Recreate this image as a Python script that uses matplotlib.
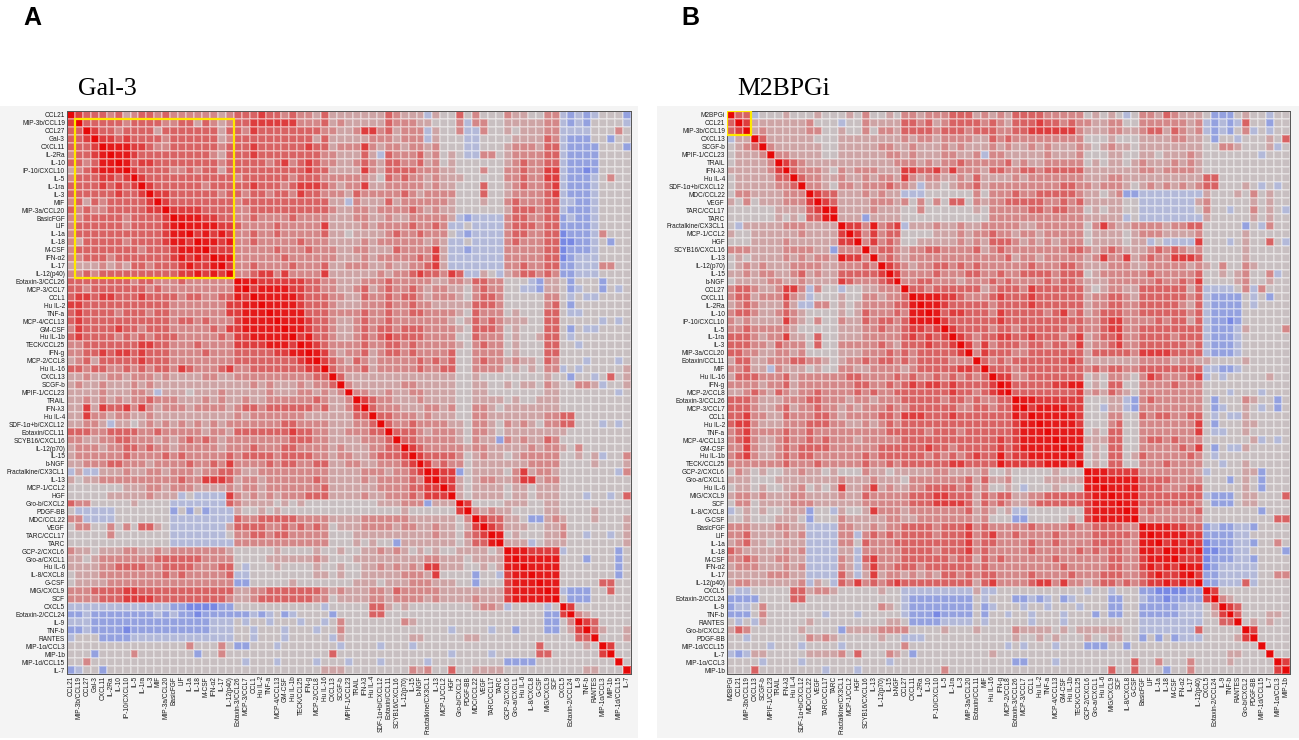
import numpy as np
import matplotlib
matplotlib.use("Agg")
import matplotlib.pyplot as plt
from matplotlib.colors import LinearSegmentedColormap
from matplotlib.patches import Rectangle

# ---------------- data ----------------
labels_a = ["CCL21", "MIP-3b/CCL19", "CCL27", "Gal-3", "CXCL11", "IL-2Ra", "IL-10",
            "IP-10/CXCL10", "IL-5", "IL-1ra", "IL-3", "MIF", "MIP-3a/CCL20", "BasicFGF",
            "LIF", "IL-1a", "IL-18", "M-CSF", "IFN-α2", "IL-17", "IL-12(p40)",
            "Eotaxin-3/CCL26", "MCP-3/CCL7", "CCL1", "Hu IL-2", "TNF-a", "MCP-4/CCL13",
            "GM-CSF", "Hu IL-1b", "TECK/CCL25", "IFN-g", "MCP-2/CCL8", "Hu IL-16",
            "CXCL13", "SCGF-b", "MPIF-1/CCL23", "TRAIL", "IFN-λ3", "Hu IL-4",
            "SDF-1α+b/CXCL12", "Eotaxin/CCL11", "SCYB16/CXCL16", "IL-12(p70)", "IL-15",
            "b-NGF", "Fractalkine/CX3CL1", "IL-13", "MCP-1/CCL2", "HGF", "Gro-b/CXCL2",
            "PDGF-BB", "MDC/CCL22", "VEGF", "TARC/CCL17", "TARC", "GCP-2/CXCL6",
            "Gro-a/CXCL1", "Hu IL-6", "IL-8/CXCL8", "G-CSF", "MIG/CXCL9", "SCF", "CXCL5",
            "Eotaxin-2/CCL24", "IL-9", "TNF-b", "RANTES", "MIP-1α/CCL3", "MIP-1b",
            "MIP-1d/CCL15", "IL-7"]

# lower triangle of the correlation matrix in panel-A order, one level digit per cell
# (groups of columns separated by spaces only for readability)
rows_a = [
    "",
    "8",
    "77",
    "778",
    "7778",
    "67789",
    "776799",
    "5678999",
    "67778878",
    "777787878",
    "7777778778",
    "67576777778",
    "767667777788",
    "6677777677778",
    "67777776777789",
    "677777777777899",
    "6577777677778998",
    "67777777767778999",
    "667776777777789898",
    "5555656577677789889",
    "66767777777777889898",
    "777777776776667666666",
    "776777777767666666666 9",
    "788788777877776776677 98",
    "887777777777766666668 899",
    "787777677767766666668 8999",
    "787777777777767767666 89999",
    "687777877677766666768 899999",
    "787777676767776666676 8899999",
    "667777777887766676666 88889998",
    "667787887877766667666 777778899",
    "567577777877766666666 7777777789",
    "776776676767768766678 66777777788",
    "556556656665655556655 666666666677",
    "565565556565555555555 556565556566 7",
    "555565556653555455565 555565556656 56",
    "556565656676665556565 565566666676 556",
    "558587786865666566665 677677777767 5568",
    "558665665565555555555 656666666555 55577",
    "556653554565656565656 666666776666 555667",
    "777667777667666665665 777777787766 5566677",
    "665566776665656767656 666666677766 55556667",
    "566656677676656666656 667666776666 565556677",
    "566666676666767666667 677776777766 5665567778",
    "556667766656666766768 666676776677 55665566678",
    "353355565566566656677 655666666666 555566656678",
    "545566666666667668887 566566666676 5555656666769",
    "444444455566566655556 566566666667 55555566667788",
    "444445555565553433338 656565666777 55556556667688 8",
    "766444445444433333337 655554545444 44444455566625 55",
    "433333444444424242333 544545444444 44444444454444 448",
    "663333444444433333333 766777776666 55556666665555 5546",
    "466446464775433333335 777766767676 45556666566556 55458",
    "444446444444433333334 667767766666 44455555555556 554678",
    "444444444444433333333 666666666666 44454544255555 5545779",
    "655455566556566666665 444445444454 45445565654545 44555545",
    "554566666667777776666 444455555565 44455555555566 55545555 9",
    "555566777766777766677 434445444454 45445565656588 55544545 99",
    "455566666666767666667 334444444455 45445555566658 44442443 899",
    "455556666666666666666 224444454444 44455545556665 55442444 8999",
    "666777788777777777777 556677777776 56555665766666 55555555 89999",
    "666677788887777777776 556777777766 45555665666656 55556555 899999",
    "333333333333322111122 444444444443 44444775454444 44445665 3444434",
    "223222222223232212222 223234234444 24444774444444 44444444 4444422 8",
    "333222222222222222333 434434443443 46444444465444 44444444 4444422 46",
    "223222212222222222333 443444344434 46444444444444 43444434 4244422 458",
    "344422223333333333333 443444344444 35444444445544 44455444 4444444 4477",
    "444444444444444644464 224443444444 43444434443444 44444444 4444744 44454",
    "444244446444444424464 444444444444 74444444444444 43444434 4444774 444448",
    "446444444444444444444 434443444434 44344434444434 44444444 2222444 4444444",
    "234424444444444444444 444444444445 55444444446564 47445555 4444444 44455444",
]

labels_b = ["M2BPGi", "CCL21", "MIP-3b/CCL19", "CXCL13", "SCGF-b", "MPIF-1/CCL23", "TRAIL",
            "IFN-λ3", "Hu IL-4", "SDF-1α+b/CXCL12", "MDC/CCL22", "VEGF", "TARC/CCL17",
            "TARC", "Fractalkine/CX3CL1", "MCP-1/CCL2", "HGF", "SCYB16/CXCL16", "IL-13",
            "IL-12(p70)", "IL-15", "b-NGF", "CCL27", "CXCL11", "IL-2Ra", "IL-10",
            "IP-10/CXCL10", "IL-5", "IL-1ra", "IL-3", "MIP-3a/CCL20", "Eotaxin/CCL11",
            "MIF", "Hu IL-16", "IFN-g", "MCP-2/CCL8", "Eotaxin-3/CCL26", "MCP-3/CCL7",
            "CCL1", "Hu IL-2", "TNF-a", "MCP-4/CCL13", "GM-CSF", "Hu IL-1b", "TECK/CCL25",
            "GCP-2/CXCL6", "Gro-a/CXCL1", "Hu IL-6", "MIG/CXCL9", "SCF", "IL-8/CXCL8",
            "G-CSF", "BasicFGF", "LIF", "IL-1a", "IL-18", "M-CSF", "IFN-α2", "IL-17",
            "IL-12(p40)", "CXCL5", "Eotaxin-2/CCL24", "IL-9", "TNF-b", "RANTES",
            "Gro-b/CXCL2", "PDGF-BB", "MIP-1d/CCL15", "IL-7", "MIP-1α/CCL3", "MIP-1b"]

# M2BPGi correlations with labels_b[1:], one level digit per cell
m2bpgi_b = "77 3444544 454445464454 66566677756565 777766666 4545434 66576555 42224544344"

# level digit -> correlation value
level_value = {"0": -0.6, "1": -0.45, "2": -0.3, "3": -0.12, "4": 0.0,
               "5": 0.15, "6": 0.3, "7": 0.45, "8": 0.65, "9": 0.85}

box_a = ("MIP-3b/CCL19", "IL-12(p40)")
box_b = ("M2BPGi", "MIP-3b/CCL19")

# ---------------- build matrices ----------------
def build_a():
    n = len(labels_a)
    M = np.eye(n)
    bad = []
    for i, s in enumerate(rows_a):
        s = s.replace(" ", "")
        if len(s) != i:
            bad.append((i + 1, len(s)))
            continue
        for j, ch in enumerate(s):
            M[i, j] = M[j, i] = level_value[ch]
    if bad:
        raise ValueError("row length mismatch: %s" % bad)
    return M

MA = build_a()
idx = {lab: i for i, lab in enumerate(labels_a)}
m2 = m2bpgi_b.replace(" ", "")
if len(m2) != len(labels_b) - 1:
    raise ValueError("m2 len %d" % len(m2))
nb = len(labels_b)
MB = np.eye(nb)
for i in range(nb):
    for j in range(nb):
        if i == j:
            continue
        a, b = labels_b[i], labels_b[j]
        if a == "M2BPGi":
            MB[i, j] = level_value[m2[j - 1]]
        elif b == "M2BPGi":
            MB[i, j] = level_value[m2[i - 1]]
        else:
            MB[i, j] = MA[idx[a], idx[b]]

# ---------------- colours ----------------
nodes = [(-1.0, "#3c50e0"), (-0.5, "#6f80e4"), (-0.3, "#94a1df"), (-0.12, "#b3b9d9"),
         (0.0, "#c8c0c2"), (0.15, "#cea5a6"), (0.3, "#d48788"), (0.45, "#d86263"),
         (0.65, "#dd3e3f"), (0.85, "#e41a1a"), (1.0, "#e60808")]
cmap = LinearSegmentedColormap.from_list("corr", [((v + 1) / 2, c) for v, c in nodes])

W, H = 1299, 740
fig = plt.figure(figsize=(W / 100, H / 100), dpi=100)
fig.patch.set_facecolor("white")

def fr(x0, y0, x1, y1):
    return [x0 / W, 1 - y1 / H, (x1 - x0) / W, (y1 - y0) / H]

# panel backgrounds
for x0, x1 in [(0, 638), (657, 1299)]:
    fig.patches.append(Rectangle((x0 / W, 1 - 738 / H), (x1 - x0) / W, (738 - 106) / H,
                                 transform=fig.transFigure, facecolor="#f4f4f4",
                                 edgecolor="none", zorder=-10))

tick_font = dict(family=["Liberation Sans", "DejaVu Sans"], size=4.7, color="#1a1a1a")

def draw(rect, M, labels, box):
    ax = fig.add_axes(rect, zorder=5)
    ax.set_facecolor("white")
    n = len(labels)
    ax.pcolormesh(np.arange(n + 1), np.arange(n + 1), M, cmap=cmap, vmin=-1, vmax=1,
                  edgecolors=(1, 1, 1, 0.3), linewidth=0.1)
    ax.set_xlim(0, n)
    ax.set_ylim(n, 0)
    ax.set_xticks(np.arange(n) + 0.5)
    ax.set_yticks(np.arange(n) + 0.5)
    ax.set_xticklabels(labels, rotation=90, fontdict=tick_font)
    ax.set_yticklabels(labels, fontdict=tick_font)
    ax.tick_params(length=0, pad=1.5)
    for sp in ax.spines.values():
        sp.set_color("#555555")
        sp.set_linewidth(0.7)
    i0, i1 = labels.index(box[0]), labels.index(box[1])
    ax.add_patch(Rectangle((i0, i0), i1 - i0 + 1, i1 - i0 + 1, fill=False,
                           edgecolor="#ffe800", linewidth=1.6, zorder=5))
    return ax

draw(fr(67, 111, 631, 674), MA, labels_a, box_a)
draw(fr(727, 111, 1290, 674), MB, labels_b, box_b)

lab_font = dict(family=["Liberation Sans", "DejaVu Sans"], size=18, weight="bold")
fig.text(23 / W, 1 - 25 / H, "A", va="baseline", ha="left", **lab_font)
fig.text(681 / W, 1 - 25 / H, "B", va="baseline", ha="left", **lab_font)
tit_font = dict(family=["Liberation Serif", "DejaVu Serif"], size=18.5)
fig.text(78 / W, 1 - 95 / H, "Gal-3", va="baseline", ha="left", **tit_font)
fig.text(737 / W, 1 - 95 / H, "M2BPGi", va="baseline", ha="left", **tit_font)

fig.savefig("out.png", dpi=100)
